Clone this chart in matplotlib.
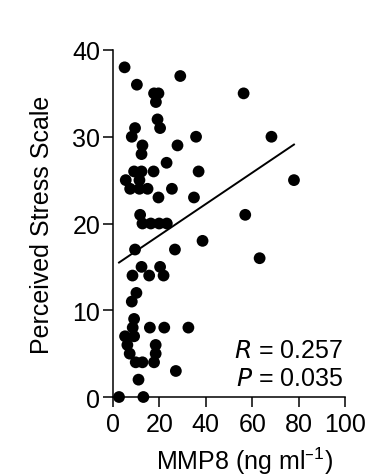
import numpy as np
import matplotlib
matplotlib.use('Agg')
import matplotlib.pyplot as plt

plt.rcParams['font.family'] = ['Liberation Sans', 'DejaVu Sans']

# MMP8 (ng/ml) vs Perceived Stress Scale
mmp8 = [5.0, 10.3, 29.0, 17.7, 19.6, 56.3, 18.5, 19.2, 20.3, 9.5,
        8.1, 35.8, 68.3, 12.7, 27.8, 12.3, 23.1, 9.1, 12.3, 17.5,
        36.9, 5.5, 11.4, 78.0, 7.4, 11.4, 14.9, 25.4, 19.6, 34.9,
        11.7, 57.0, 12.7, 16.3, 19.9, 23.2, 38.6, 9.5, 26.7, 63.2,
        12.3, 20.3, 8.4, 15.6, 21.8, 10.1, 8.1, 9.1, 8.5, 15.9,
        22.1, 32.5, 5.2, 9.1, 6.2, 18.4, 7.2, 18.4, 9.8, 12.7,
        17.7, 27.1, 11.0, 2.6, 13.1]
pss = [38, 36, 37, 35, 35, 35, 34, 32, 31, 31,
       30, 30, 30, 29, 29, 28, 27, 26, 26, 26,
       26, 25, 25, 25, 24, 24, 24, 24, 23, 23,
       21, 21, 20, 20, 20, 20, 18, 17, 17, 16,
       15, 15, 14, 14, 14, 12, 11, 9, 8, 8,
       8, 8, 7, 7, 6, 6, 5, 5, 4, 4,
       4, 3, 2, 0, 0]

# regression line as drawn
fit_slope = 0.1804
fit_intercept = 15.03

fig = plt.figure(figsize=(3.88, 4.77), dpi=100)
ax = fig.add_axes([0.2912, 0.1656, 0.598, 0.7275])

ax.scatter(mmp8, pss, s=72, c='black', edgecolors='none', clip_on=False, zorder=3)
lx = np.array([min(mmp8), max(mmp8)])
ax.plot(lx, fit_intercept + fit_slope * lx, color='black', lw=1.4)

ax.set_xlim(0, 100)
ax.set_ylim(0, 40)
ax.set_xticks([0, 20, 40, 60, 80, 100])
ax.set_yticks([0, 10, 20, 30, 40])
for s in ['top', 'right']:
    ax.spines[s].set_visible(False)
for s in ['left', 'bottom']:
    ax.spines[s].set_linewidth(1.1)
ax.tick_params(direction='out', length=7, width=1.1, labelsize=18, pad=2)
ax.tick_params(axis='x', pad=4)

ax.set_xlabel('MMP8 (ng ml$^{\\mathregular{\u2013 1}}$)', fontsize=18)
ax.xaxis.set_label_coords(0.565, -0.138)
ax.set_ylabel('Perceived Stress Scale', fontsize=18, labelpad=13)

ax.text(0.99, 0.135, '$\\mathit{R}$ = 0.257', transform=ax.transAxes,
        ha='right', va='center', fontsize=18)
ax.text(0.99, 0.055, '$\\mathit{P}$ = 0.035', transform=ax.transAxes,
        ha='right', va='center', fontsize=18)

fig.savefig('out.png', dpi=100)
